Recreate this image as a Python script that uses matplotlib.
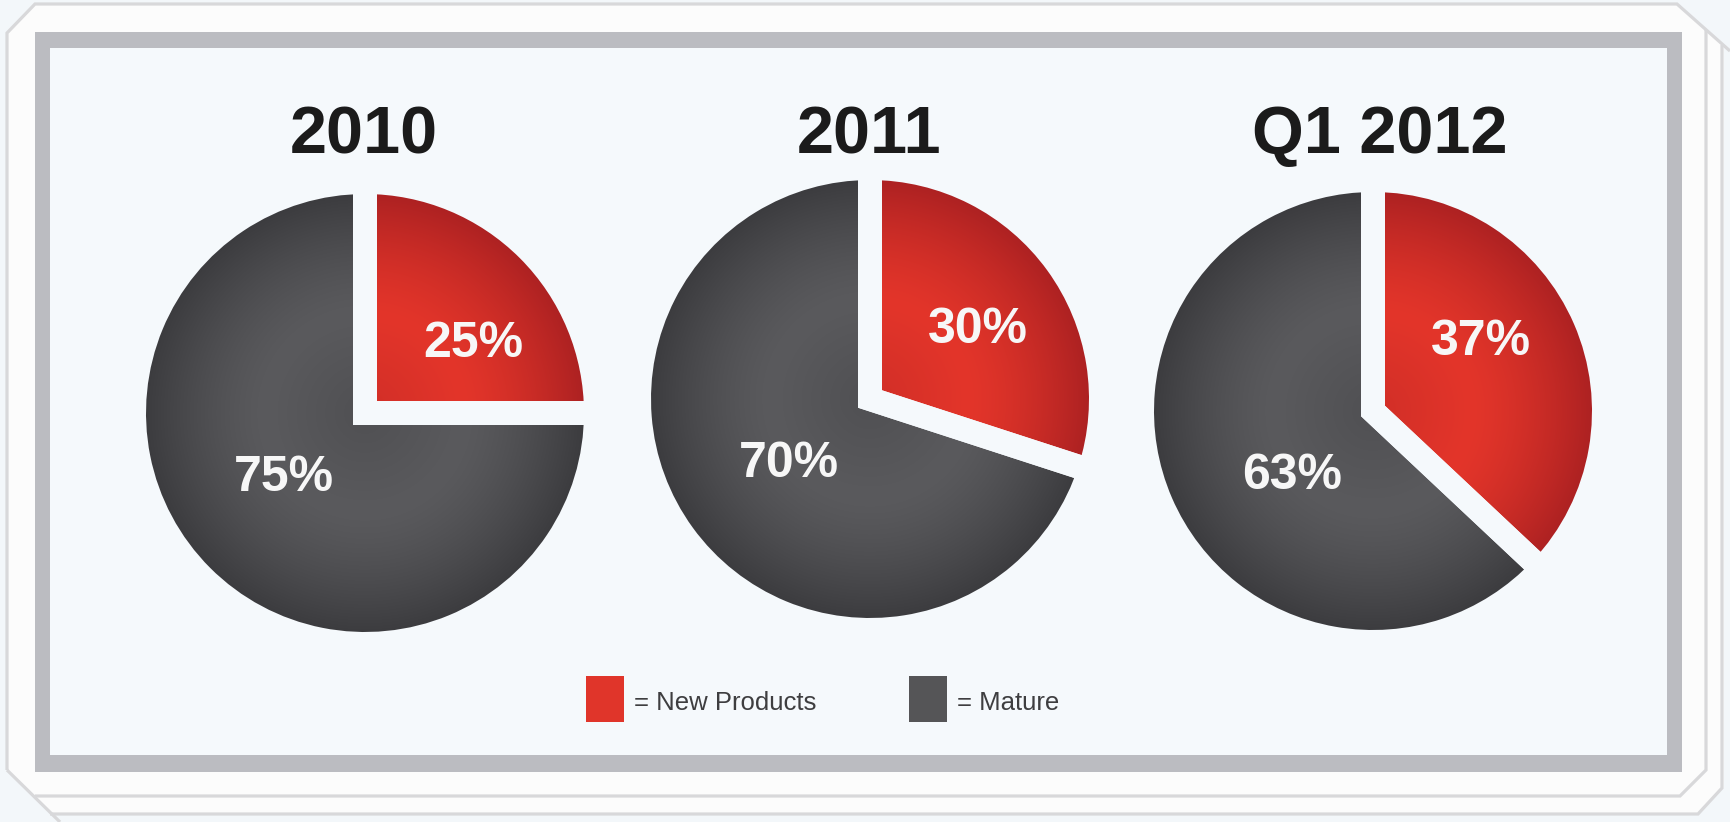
import numpy as np
import matplotlib
matplotlib.use("Agg")
import matplotlib.pyplot as plt
from matplotlib.patches import Rectangle, Polygon
from matplotlib.colors import to_rgb

# ---- data -------------------------------------------------------------
periods = ["2010", "2011", "Q1 2012"]
new_products = [25, 30, 37]          # share of sales, %
mature = [75, 70, 63]                # share of sales, %
segment_names = ["New Products", "Mature"]

# ---- style ------------------------------------------------------------
W, H = 1730, 822
OUTSIDE = "#F3F7FA"
CARD = "#FCFCFC"
CARD_LINE = "#D8D8DA"
FRAME = "#BBBCC1"
PANEL = "#F5F9FC"
RED_LIGHT, RED_DARK = "#E3352A", "#A61F21"
GREY_LIGHT, GREY_DARK = "#5A5A5D", "#38383B"
RED_KEY, GREY_KEY = "#E0352A", "#555557"

BOLD = dict(family=["Liberation Sans", "DejaVu Sans"], weight="bold")
NARROW = dict(family=["Liberation Sans Narrow", "Liberation Sans", "DejaVu Sans"])


def Y(v):
    """Convert a top-down pixel position to the axes' y coordinate."""
    return H - v


fig = plt.figure(figsize=(W / 100, H / 100), dpi=100, facecolor=OUTSIDE)
ax = fig.add_axes([0, 0, 1, 1])
ax.set_facecolor(OUTSIDE)

# ---- stacked card outline ---------------------------------------------
card = [(7, 33), (35, 4), (1677, 4), (1724, 46), (1724, 788), (1698, 814),
        (52, 814), (7, 770)]
ax.add_patch(Polygon([(x, Y(y)) for x, y in card], closed=True,
                     facecolor=CARD, edgecolor="none", zorder=0.5))
outlines = [
    [(7, 770), (7, 33), (35, 4), (1677, 4), (1730, 51)],
    [(1706, 30), (1706, 770), (1680, 796), (35, 796)],
    [(1722, 45), (1722, 788), (1698, 814), (50, 814)],
    [(7, 770), (60, 822)],
]
for pts in outlines:
    xs, ys = zip(*pts)
    ax.plot(xs, [Y(v) for v in ys], color=CARD_LINE, lw=2.3,
            solid_joinstyle="miter", solid_capstyle="butt", zorder=0.6)

# ---- grey frame and panel ---------------------------------------------
ax.add_patch(Rectangle((35, Y(772)), 1682 - 35, 772 - 32,
                       facecolor=FRAME, edgecolor="none", zorder=0.7))
ax.add_patch(Rectangle((50, Y(755)), 1667 - 50, 755 - 48,
                       facecolor=PANEL, edgecolor="none", zorder=0.8))

# ---- pies -------------------------------------------------------------
centers = [(365, 413), (870, 399), (1373, 411)]
title_x = [364, 869, 1380]
visible_r = 219
gap_px = 24
R = visible_r + gap_px / 2
gap_pt = gap_px * 72 / 100

n = 500
g = np.linspace(-1, 1, n)
GX, GY = np.meshgrid(g, g)
rr = np.hypot(GX, GY)
t = np.clip((rr - 0.42) / 0.58, 0, 1) ** 1.4
t = np.where(rr < 0.42, (0.42 - rr) / 0.42 * 0.3, t)


def shade(wedge, cx, cy, light, dark):
    lo, hi = np.array(to_rgb(light)), np.array(to_rgb(dark))
    img = lo * (1 - t[..., None]) + hi * t[..., None]
    im = ax.imshow(img, extent=(cx - R, cx + R, cy - R, cy + R),
                   origin="lower", interpolation="bilinear", zorder=2)
    im.set_clip_path(wedge)


for i, period in enumerate(periods):
    cx, cy = centers[i][0], Y(centers[i][1])
    values = [new_products[i], mature[i]]
    wedges, _ = ax.pie(values, colors=[RED_LIGHT, GREY_LIGHT], startangle=90,
                       counterclock=False, radius=R, center=(cx, cy), frame=True,
                       wedgeprops=dict(edgecolor=PANEL, linewidth=gap_pt,
                                       joinstyle="miter"))
    shade(wedges[0], cx, cy, RED_LIGHT, RED_DARK)
    shade(wedges[1], cx, cy, GREY_LIGHT, GREY_DARK)
    for w in wedges:
        w.set_facecolor("none")
        w.set_zorder(3)

    ax.text(title_x[i], Y(153), period, ha="center", va="baseline",
            fontsize=48, color="#1B1B1B", zorder=5, **BOLD)
    ax.text(cx + 108, cy + 56, f"{new_products[i]}%", ha="center",
            va="baseline", fontsize=36, color="#F7F7F7", zorder=5, **BOLD)
    ax.text(cx - 81, cy - 78, f"{mature[i]}%", ha="center",
            va="baseline", fontsize=36, color="#F7F7F7", zorder=5, **BOLD)

# ---- key ----------------------------------------------------------------
key_x = [586, 909]
key_colors = [RED_KEY, GREY_KEY]
for x0, col, name in zip(key_x, key_colors, segment_names):
    ax.add_patch(Rectangle((x0, Y(722)), 38, 46, facecolor=col,
                           edgecolor="none", zorder=4))
    ax.text(x0 + 48, Y(710), f"= {name}", ha="left", va="baseline",
            fontsize=18.5, color="#3E3E40", zorder=5, **NARROW)

ax.set_xlim(0, W)
ax.set_ylim(0, H)
ax.set_aspect("equal")
ax.set_axis_off()

fig.savefig("out.png", dpi=100, facecolor=OUTSIDE)
